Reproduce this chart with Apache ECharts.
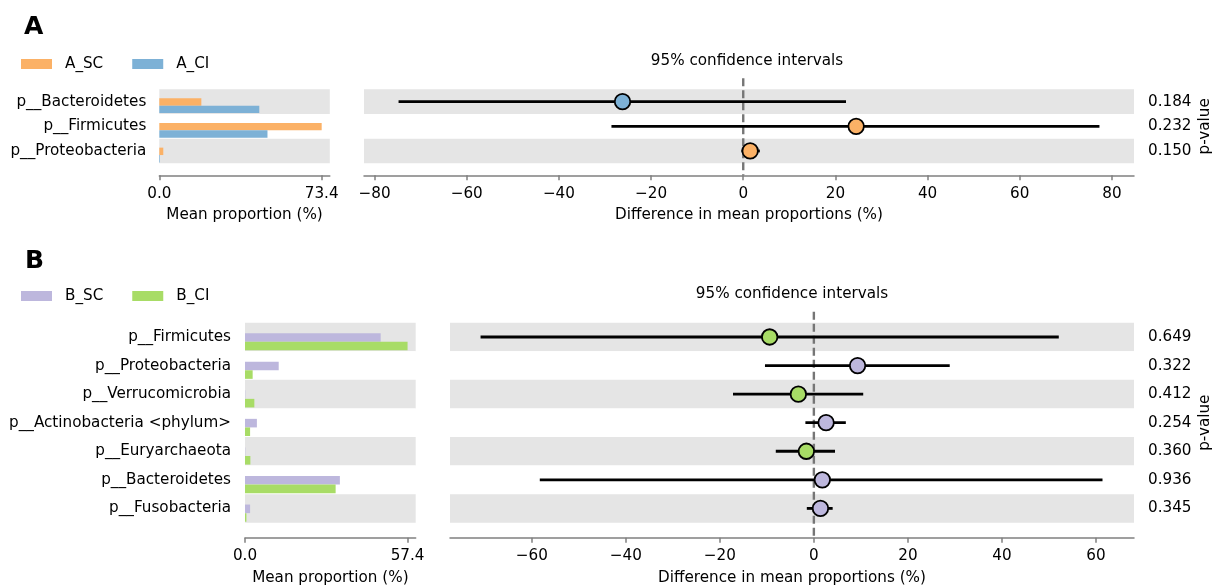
<!DOCTYPE html>
<html>
<head>
<meta charset="utf-8">
<title>Extended error bar plots</title>
<script src="https://cdn.jsdelivr.net/npm/echarts@6/dist/echarts.min.js"></script>
<style>
  html, body { margin: 0; padding: 0; background: #fff; }
  #chart { width: 1214px; height: 586px; }
</style>
</head>
<body>
<div id="chart"></div>
<script>
// ---- Panel A: A_SC vs A_CI ----
const aCats = ['p__Bacteroidetes', 'p__Firmicutes', 'p__Proteobacteria'];
const aSC = [19.0, 73.4, 1.8];          // mean proportion (%)
const aCI = [45.2, 48.9, 0.3];
const aDiff = [-26.2, 24.5, 1.5];       // difference in mean proportions (%)
const aLow = [-74.8, -28.6, -0.4];      // 95% CI lower bound
const aHigh = [22.3, 77.3, 3.6];        // 95% CI upper bound
const aP = ['0.184', '0.232', '0.150'];
const aDiffTicks = [-80, -60, -40, -20, 0, 20, 40, 60, 80];

// ---- Panel B: B_SC vs B_CI ----
const bCats = ['p__Firmicutes', 'p__Proteobacteria', 'p__Verrucomicrobia',
  'p__Actinobacteria <phylum>', 'p__Euryarchaeota', 'p__Bacteroidetes', 'p__Fusobacteria'];
const bSC = [47.9, 11.9, 0.1, 4.2, 0.1, 33.5, 1.8];
const bCI = [57.4, 2.7, 3.3, 1.8, 1.9, 32.0, 0.5];
const bDiff = [-9.4, 9.3, -3.3, 2.6, -1.6, 1.8, 1.4];
const bLow = [-70.9, -10.4, -17.2, -1.8, -8.1, -58.3, -1.5];
const bHigh = [52.1, 28.9, 10.5, 6.8, 4.5, 61.4, 4.0];
const bP = ['0.649', '0.322', '0.412', '0.254', '0.360', '0.936', '0.345'];
const bDiffTicks = [-60, -40, -20, 0, 20, 40, 60];

const COL = { A_SC: '#fbb166', A_CI: '#7db1d6', B_SC: '#bdb7dd', B_CI: '#a8dc66' };
const FONT = 'DejaVu Sans';
const FS = 15.2;
const AXIS_GRAY = '#808080';
const BAND = '#e5e5e5';

const minus = v => (v < 0 ? '\u2212' + Math.abs(v) : String(v));

// horizontal bar, shifted inside its row (start offset in row units, height 0.3 row)
function barRenderer(offset) {
  return function (params, api) {
    const v = api.value(0), idx = api.value(1);
    const p0 = api.coord([0, idx]);
    const p1 = api.coord([v, idx]);
    const band = api.size([0, 1])[1];
    return {
      type: 'rect',
      shape: { x: p0[0], y: p0[1] + offset * band, width: p1[0] - p0[0], height: 0.3 * band },
      style: { fill: api.visual('color') }
    };
  };
}

function errRender(params, api) {
  const idx = api.value(2);
  const a = api.coord([api.value(0), idx]);
  const b = api.coord([api.value(1), idx]);
  return {
    type: 'line',
    shape: { x1: a[0], y1: a[1], x2: b[0], y2: b[1] },
    style: { stroke: '#000', lineWidth: 2.8 }
  };
}

function zeroRenderer(below) {
  return function (params, api) {
    const x = api.coord([0, 0])[0];
    const cs = params.coordSys;
    return {
      type: 'line',
      shape: { x1: x, y1: cs.y - 11, x2: x, y2: cs.y + cs.height + below },
      style: { stroke: '#767676', lineWidth: 2.4, lineDash: [8, 4] }
    };
  };
}

function propAxis(grid, maxVal, offset, gap) {
  return {
    type: 'value', gridIndex: grid, min: 0, max: maxVal * 1.05, offset: offset,
    axisLine: { show: true, lineStyle: { color: AXIS_GRAY, width: 1.5 } },
    axisTick: { show: true, length: 5, lineStyle: { color: AXIS_GRAY, width: 1.5 }, customValues: [0, maxVal] },
    axisLabel: { customValues: [0, maxVal], formatter: v => v.toFixed(1), margin: 11,
      fontFamily: FONT, fontSize: FS, color: '#000' },
    splitLine: { show: false },
    name: 'Mean proportion (%)', nameLocation: 'middle', nameGap: gap, nameMoveOverlap: false,
    nameTextStyle: { fontFamily: FONT, fontSize: FS, color: '#000' }
  };
}

function diffAxis(grid, lo, hi, ticks, offset, gap) {
  return {
    type: 'value', gridIndex: grid, min: lo, max: hi, offset: offset,
    axisLine: { show: true, lineStyle: { color: AXIS_GRAY, width: 1.5 } },
    axisTick: { show: true, length: 5, lineStyle: { color: AXIS_GRAY, width: 1.5 }, customValues: ticks },
    axisLabel: { customValues: ticks, formatter: minus, margin: 11,
      fontFamily: FONT, fontSize: FS, color: '#000' },
    splitLine: { show: false },
    name: 'Difference in mean proportions (%)', nameLocation: 'middle', nameGap: gap, nameMoveOverlap: false,
    nameTextStyle: { fontFamily: FONT, fontSize: FS, color: '#000' }
  };
}

function catAxis(grid, cats, margin) {
  return {
    type: 'category', gridIndex: grid, data: cats, inverse: true, position: 'left',
    axisLine: { show: false }, axisTick: { show: false },
    axisLabel: { margin: margin, fontFamily: FONT, fontSize: FS, color: '#000' },
    splitLine: { show: false },
    splitArea: { show: true, areaStyle: { color: [BAND, '#ffffff'] } }
  };
}

function pAxis(grid, pvals) {
  return {
    type: 'category', gridIndex: grid, data: pvals, inverse: true, position: 'right',
    axisLine: { show: false }, axisTick: { show: false },
    axisLabel: { margin: 14, fontFamily: FONT, fontSize: FS, color: '#000' },
    splitLine: { show: false },
    splitArea: { show: true, areaStyle: { color: [BAND, '#ffffff'] } },
    name: 'p-value', nameLocation: 'middle', nameRotate: 90, nameGap: 64, nameMoveOverlap: false,
    nameTextStyle: { fontFamily: FONT, fontSize: FS, color: '#000' }
  };
}

function pointData(diff, sc, ci, colSC, colCI) {
  return diff.map((d, i) => ({ value: [d, i], itemStyle: { color: sc[i] >= ci[i] ? colSC : colCI } }));
}

function legendFor(names, top) {
  return {
    left: 21, top: top, padding: 0, orient: 'horizontal',
    icon: 'rect', itemWidth: 31, itemHeight: 10, itemGap: 29,
    data: names.map(n => ({ name: n, itemStyle: { color: COL[n] } })),
    textStyle: { fontFamily: FONT, fontSize: FS, color: '#000', padding: [0, 0, 0, 8] }
  };
}

const chart = echarts.init(document.getElementById('chart'), null, { renderer: 'canvas' });

const option = {
  animation: false,
  backgroundColor: '#ffffff',
  textStyle: { fontFamily: FONT },
  legend: [legendFor(['A_SC', 'A_CI'], 56.5), legendFor(['B_SC', 'B_CI'], 288.5)],
  graphic: [
    { type: 'text', x: 24, y: 27, style: { text: 'A', font: 'bold 25px "DejaVu Sans"', fill: '#000', verticalAlign: 'middle' } },
    { type: 'text', x: 25, y: 261, style: { text: 'B', font: 'bold 25px "DejaVu Sans"', fill: '#000', verticalAlign: 'middle' } },
    { type: 'text', x: 747, y: 61, style: { text: '95% confidence intervals', font: '15.2px "DejaVu Sans"', fill: '#000', align: 'center', verticalAlign: 'middle' } },
    { type: 'text', x: 792, y: 294, style: { text: '95% confidence intervals', font: '15.2px "DejaVu Sans"', fill: '#000', align: 'center', verticalAlign: 'middle' } }
  ],
  grid: [
    { left: 159.3, top: 89.3, width: 170.5, height: 74, outerBoundsMode: 'none' },
    { left: 364, top: 89.3, width: 770, height: 74, outerBoundsMode: 'none' },
    { left: 245, top: 322.7, width: 170.7, height: 200, outerBoundsMode: 'none' },
    { left: 450, top: 322.7, width: 684, height: 200, outerBoundsMode: 'none' }
  ],
  xAxis: [
    propAxis(0, Math.max(...aSC, ...aCI), 12, 32),
    diffAxis(1, -82.3, 84.8, aDiffTicks, 12, 32),
    propAxis(2, Math.max(...bSC, ...bCI), 15, 33),
    diffAxis(3, -77.4, 68.1, bDiffTicks, 15, 33)
  ],
  yAxis: [
    catAxis(0, aCats, 13),
    pAxis(1, aP),
    catAxis(2, bCats, 14),
    pAxis(3, bP)
  ],
  series: [
    // panel A, mean proportions
    { name: 'A_SC', type: 'custom', xAxisIndex: 0, yAxisIndex: 0, itemStyle: { color: COL.A_SC },
      encode: { x: 0, y: 1 }, data: aSC.map((v, i) => [v, i]), renderItem: barRenderer(-0.135) },
    { name: 'A_CI', type: 'custom', xAxisIndex: 0, yAxisIndex: 0, itemStyle: { color: COL.A_CI },
      encode: { x: 0, y: 1 }, data: aCI.map((v, i) => [v, i]), renderItem: barRenderer(0.165) },
    // panel A, differences with confidence intervals
    { name: 'zeroA', type: 'custom', xAxisIndex: 1, yAxisIndex: 1, clip: false, silent: true, z: 2,
      encode: { x: 0, y: 1 }, data: [[0, 0]], renderItem: zeroRenderer(12) },
    { name: 'ciA', type: 'custom', xAxisIndex: 1, yAxisIndex: 1, z: 3,
      encode: { x: [0, 1], y: 2 }, data: aLow.map((l, i) => [l, aHigh[i], i]), renderItem: errRender },
    { name: 'diffA', type: 'scatter', xAxisIndex: 1, yAxisIndex: 1, z: 4, symbolSize: 15.5,
      itemStyle: { borderColor: '#000', borderWidth: 1.8, opacity: 1 },
      data: pointData(aDiff, aSC, aCI, COL.A_SC, COL.A_CI) },
    // panel B, mean proportions
    { name: 'B_SC', type: 'custom', xAxisIndex: 2, yAxisIndex: 2, itemStyle: { color: COL.B_SC },
      encode: { x: 0, y: 1 }, data: bSC.map((v, i) => [v, i]), renderItem: barRenderer(-0.135) },
    { name: 'B_CI', type: 'custom', xAxisIndex: 2, yAxisIndex: 2, itemStyle: { color: COL.B_CI },
      encode: { x: 0, y: 1 }, data: bCI.map((v, i) => [v, i]), renderItem: barRenderer(0.165) },
    // panel B, differences with confidence intervals
    { name: 'zeroB', type: 'custom', xAxisIndex: 3, yAxisIndex: 3, clip: false, silent: true, z: 2,
      encode: { x: 0, y: 1 }, data: [[0, 0]], renderItem: zeroRenderer(15) },
    { name: 'ciB', type: 'custom', xAxisIndex: 3, yAxisIndex: 3, z: 3,
      encode: { x: [0, 1], y: 2 }, data: bLow.map((l, i) => [l, bHigh[i], i]), renderItem: errRender },
    { name: 'diffB', type: 'scatter', xAxisIndex: 3, yAxisIndex: 3, z: 4, symbolSize: 15.5,
      itemStyle: { borderColor: '#000', borderWidth: 1.8, opacity: 1 },
      data: pointData(bDiff, bSC, bCI, COL.B_SC, COL.B_CI) }
  ]
};

chart.setOption(option);
</script>
</body>
</html>
